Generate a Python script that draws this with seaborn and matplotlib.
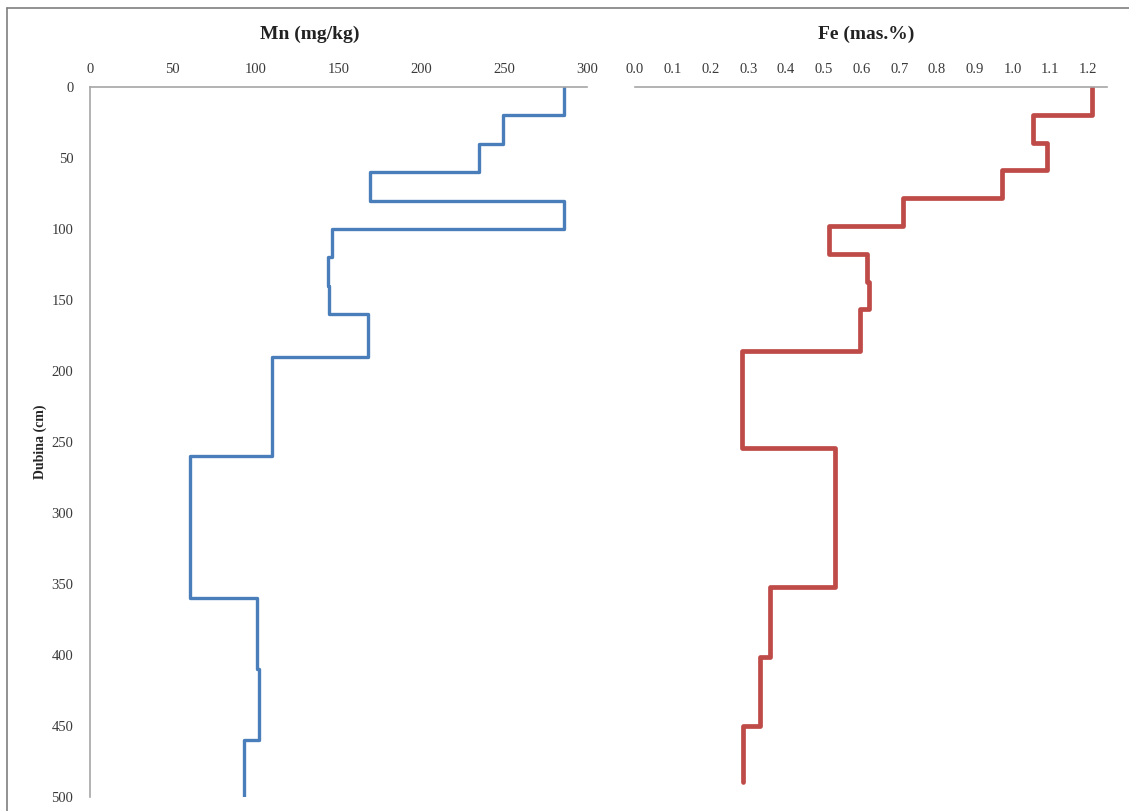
import numpy as np
import matplotlib
matplotlib.use("Agg")
import matplotlib.pyplot as plt
from matplotlib.lines import Line2D
import seaborn as sns

# depth intervals (cm)
depth_top = [0, 20, 40, 60, 80, 100, 120, 140, 160, 190, 260, 360, 410, 460]
depth_bot = [20, 40, 60, 80, 100, 120, 140, 160, 190, 260, 360, 410, 460, 500]

# Mn (mg/kg) per interval
mn = [286, 249, 235, 169, 286, 146, 143.5, 144.5, 168, 110, 60.5, 101, 102, 93]
# Fe (mas.%) per interval
fe = [1.21, 1.054, 1.09, 0.972, 0.71, 0.515, 0.614, 0.62, 0.596, 0.283, 0.53, 0.357, 0.33, 0.285]

mn_ticks = [0, 50, 100, 150, 200, 250, 300]
fe_ticks = [0.0, 0.1, 0.2, 0.3, 0.4, 0.5, 0.6, 0.7, 0.8, 0.9, 1.0, 1.1, 1.2]
depth_ticks = [0, 50, 100, 150, 200, 250, 300, 350, 400, 450, 500]

sns.set_style("white")
plt.rcParams['font.family'] = ['Liberation Serif', 'DejaVu Serif']

# step profile: each value held over its depth interval
ys = np.column_stack([depth_top, depth_bot]).ravel()
mn_x = np.repeat(mn, 2)
fe_x = np.repeat(fe, 2)

W, H = 1129, 811
fig = plt.figure(figsize=(W / 100, H / 100), dpi=100)

ax1 = fig.add_axes([90 / W, 1 - 797 / H, 497 / W, 710 / H])
ax2 = fig.add_axes([635 / W, 1 - 797 / H, 472 / W, 710 / H])

sns.lineplot(x=mn_x, y=ys, sort=False, estimator=None, color="#4a7ebb", lw=2.4, ax=ax1)
sns.lineplot(x=fe_x, y=ys, sort=False, estimator=None, color="#be4b48", lw=3.4, ax=ax2)

axis_grey = "#a6a6a6"
tick_col = "#3a3a3a"

# Mn panel
ax1.set_xlim(0, 300)
ax1.set_ylim(500, 0)
ax1.xaxis.tick_top()
ax1.set_xticks(mn_ticks)
ax1.set_yticks(depth_ticks)
ax1.tick_params(length=0, labelsize=10.5, labelcolor=tick_col, pad=12)
ax1.tick_params(axis="x", pad=8)
for s in ["bottom", "right"]:
    ax1.spines[s].set_visible(False)
for s in ["top", "left"]:
    ax1.spines[s].set_color(axis_grey)
    ax1.spines[s].set_linewidth(1.2)
ax1.set_ylabel("Dubina (cm)", fontsize=10, fontweight="bold", labelpad=3)
ax1.set_xlabel("")

# Fe panel
ax2.set_xlim(0, 1.25)
ax2.set_ylim(511, 0)
ax2.xaxis.tick_top()
ax2.set_xticks(fe_ticks)
ax2.set_xticklabels([f"{t:.1f}" for t in fe_ticks])
ax2.set_yticks([])
ax2.tick_params(length=0, labelsize=10.5, labelcolor=tick_col)
ax2.tick_params(axis="x", pad=8)
for s in ["bottom", "right", "left"]:
    ax2.spines[s].set_visible(False)
ax2.spines["top"].set_color(axis_grey)
ax2.spines["top"].set_linewidth(1.2)

# titles
fig.text(310 / W, 1 - 34 / H, "Mn (mg/kg)", ha="center", va="center",
         fontsize=14, fontweight="bold", color="#222222")
fig.text(866 / W, 1 - 34 / H, "Fe (mas.%)", ha="center", va="center",
         fontsize=14, fontweight="bold", color="#222222")

# outer frame (cut at right and bottom)
fig.add_artist(Line2D([7 / W, 7 / W], [0, 1 - 8 / H], color="#7f7f7f", lw=1.2))
fig.add_artist(Line2D([7 / W, 1], [1 - 8 / H, 1 - 8 / H], color="#7f7f7f", lw=1.2))

fig.savefig("out.png", dpi=100)
